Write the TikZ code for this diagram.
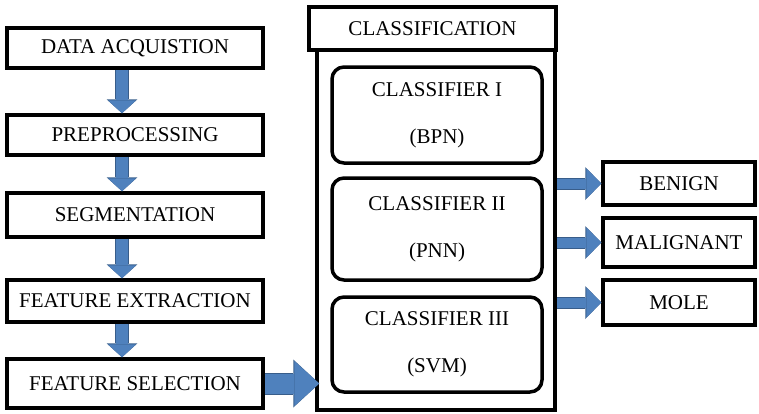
\documentclass[tikz,border=0pt]{standalone}
\usepackage{fontspec}
\setmainfont{Liberation Serif}
\usetikzlibrary{positioning, arrows.meta}
\definecolor{arrowblue}{RGB}{79,129,189}
\definecolor{arrowedge}{RGB}{56,93,138}

\begin{document}
\begin{tikzpicture}[
					x=1pt, y=-1pt,
					box/.style={draw, line width=3.5pt, fill=white, inner sep=0pt, font=\fontsize{21}{25}\selectfont},
					stagebox/.style={box, minimum width=256pt},
					outbox/.style={box, minimum width=152pt},
					clsbox/.style={box, rounded corners=12pt, minimum width=210pt, align=center, font=\fontsize{21}{47}\selectfont},
					downarrow/.style={line width=12pt, draw=arrowblue, -{Triangle[width=28pt, length=13pt, line width=0pt]},
						preaction={draw=arrowedge, line width=14pt, -{Triangle[width=31pt, length=14pt, line width=0pt]}}},
					outarrow/.style={line width=10pt, draw=arrowblue, -{Triangle[width=30pt, length=15pt, line width=0pt]},
						preaction={draw=arrowedge, line width=12pt, -{Triangle[width=33pt, length=16pt, line width=0pt]}}},
					bigarrow/.style={line width=20pt, draw=arrowblue, shorten >=-4pt, -{Triangle[width=45pt, length=25pt, line width=0pt]},
						preaction={draw=arrowedge, line width=22pt, shorten >=-4pt, -{Triangle[width=48pt, length=26pt, line width=0pt]}}}
					]
					\useasboundingbox (0,0) rectangle (759,413);
					% left column of stages
					\node[stagebox, minimum height=40pt] (acq) at (135,48) {DATA ACQUISTION};
					\node[stagebox, minimum height=40pt] (pre) at (135,135) {PREPROCESSING};
					\node[stagebox, minimum height=44pt] (seg) at (135,215) {SEGMENTATION};
					\node[stagebox, minimum height=42pt] (ext) at (135,301) {FEATURE EXTRACTION};
					\node[stagebox, minimum height=49pt] (sel) at (135,383.5) {FEATURE SELECTION};
					% classification block
					\node[box, minimum width=238pt, minimum height=360pt] (col) at (436,230) {};
					\node[box, minimum width=247pt, minimum height=43pt] (cls) at (432.5,28.5) {CLASSIFICATION};
					\node[clsbox, minimum height=96pt] (c1) at (437,115) {CLASSIFIER I\\(BPN)};
					\node[clsbox, minimum height=102pt] (c2) at (437,229) {CLASSIFIER II\\(PNN)};
					\node[clsbox, minimum height=95pt] (c3) at (437,344.5) {CLASSIFIER III\\(SVM)};
					% results
					\node[outbox, minimum height=43pt] (ben) at (679,183.5) {BENIGN};
					\node[outbox, minimum height=49pt] (mal) at (679,242.5) {MALIGNANT};
					\node[outbox, minimum height=45pt] (mole) at (679,302.5) {MOLE};
					% arrows
					\draw[downarrow] ([xshift=-13pt]acq.south) -- ([xshift=-13pt]pre.north);
					\draw[downarrow] ([xshift=-13pt]pre.south) -- ([xshift=-13pt]seg.north);
					\draw[downarrow] ([xshift=-13pt]seg.south) -- ([xshift=-13pt]ext.north);
					\draw[downarrow] ([xshift=-13pt]ext.south) -- ([xshift=-13pt]sel.north);
					\draw[bigarrow] (sel.east) -- (col.west |- sel.east);
					\draw[outarrow] (col.east |- ben.west) -- (ben.west);
					\draw[outarrow] (col.east |- mal.west) -- (mal.west);
					\draw[outarrow] (col.east |- mole.west) -- (mole.west);
				\end{tikzpicture}
\end{document}
